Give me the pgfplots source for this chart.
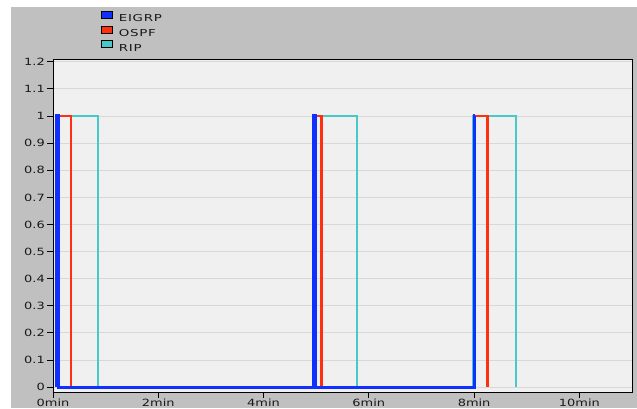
\documentclass[border=0pt]{standalone}
\usepackage{pgfplots}
\pgfplotsset{compat=1.18}
\usepackage{fontspec}
\setmainfont{DejaVu Sans}
\newfontfamily\tickfont[FakeStretch=1.3]{DejaVu Sans}
\newfontfamily\legfont[FakeStretch=1.4, LetterSpace=8]{DejaVu Sans}
\definecolor{eigrp}{RGB}{16,48,255}
\definecolor{ospf}{RGB}{255,48,16}
\definecolor{rip}{RGB}{72,200,200}
\definecolor{panel}{RGB}{192,192,192}
\definecolor{plotbg}{RGB}{240,240,240}
\definecolor{gridc}{RGB}{216,216,216}
\definecolor{txt}{RGB}{25,25,25}
\begin{document}
\begin{tikzpicture}[x=1bp,y=1bp]
\useasboundingbox (0,0) rectangle (637,408);
\fill[white] (0,0) rectangle (637,408);
\fill[panel] (11,0) rectangle (637,401);
\begin{axis}[
  at={(53bp,16bp)}, anchor=south west,
  width=579bp, height=332bp, scale only axis,
  xmin=0, xmax=11, ymin=-0.018, ymax=1.207,
  axis background/.style={fill=plotbg},
  axis line style={black, line width=1bp},
  xtick={0,2,4,6,8,10},
  xticklabels={0min,2min,4min,6min,8min,10min},
  ytick={0,0.1,0.2,0.3,0.4,0.5,0.6,0.7,0.8,0.9,1,1.1,1.2},
  yticklabels={0,0.1,0.2,0.3,0.4,0.5,0.6,0.7,0.8,0.9,1,1.1,1.2},
  tick align=outside,
  xtick pos=bottom, ytick pos=left,
  major tick length=6bp,
  tick style={black, line width=1bp},
  ymajorgrids,
  grid style={gridc, line width=1bp},
  ticklabel style={font=\tickfont\fontsize{10}{10}\selectfont, text=txt},
  yticklabel style={inner sep=0pt, xshift=-2bp},
  xticklabel style={inner sep=0pt, text depth=0pt, yshift=-0.5bp},
  legend style={at={(rel axis cs:0.0829,1.148)}, anchor=north west,
    draw=none, fill=none, inner sep=0pt, row sep=3.8bp, column sep=0pt,
    font=\legfont\fontsize{9.6}{9.6}\selectfont, text=txt,
    nodes={inner sep=0pt, text height=7bp, text depth=0pt}},
  legend cell align=left,
  legend image code/.code={\draw[#1, draw=black, line width=0.8bp] (0bp,0bp) rectangle (11bp,7bp);
     \path (17bp,0bp);},
]
\addlegendimage{fill=eigrp}
\addlegendentry{EIGRP}
\addlegendimage{fill=ospf}
\addlegendentry{OSPF}
\addlegendimage{fill=rip}
\addlegendentry{RIP}
\addplot[rip, line width=2.3bp, forget plot] coordinates {
 (0.06,0) (0.06,1) (0.85,1) (0.85,0) (4.97,0) (4.97,1) (5.78,1) (5.78,0)
 (7.99,0) (7.99,1) (8.79,1) (8.79,0)};
\addplot[ospf, line width=2.5bp, forget plot] coordinates {
 (0.07,0) (0.07,1) (0.34,1) (0.34,0) (4.99,0) (4.99,1) (5.1,1) (5.1,0)
 (8.0,0) (8.0,1) (8.25,1) (8.25,0)};
\addplot[eigrp, line width=3.2bp, forget plot] coordinates {
 (0.06,0) (0.06,1) (0.11,1) (0.11,0) (4.96,0) (4.96,1) (4.99,1) (4.99,0)
 (8.0,0) (8.0,1) (8.02,1)};
\end{axis}
\end{tikzpicture}
\end{document}
